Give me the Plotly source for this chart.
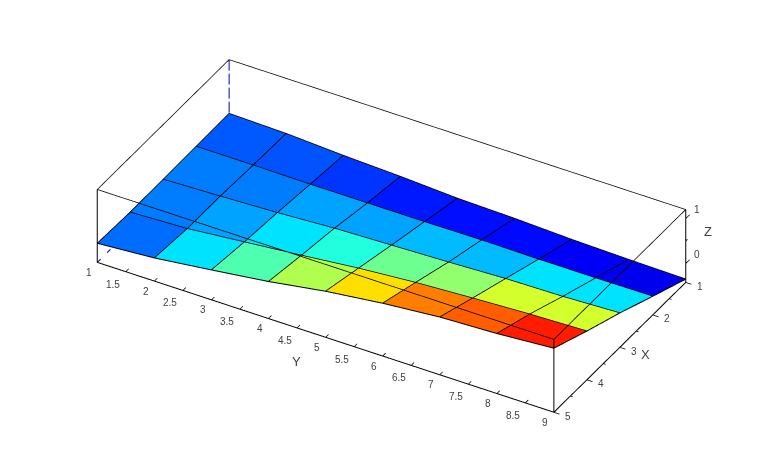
#!/usr/bin/env python
# coding: utf-8

import numpy as np
import plotly.graph_objects as go

x_vals = [1, 2, 3, 4, 5]
y_vals = [1, 2, 3, 4, 5, 6, 7, 8, 9]

# surface heights, one row per X, one column per Y
z_x1 = [0.00, -0.03, -0.10, -0.15, -0.22, -0.25, -0.30, -0.33, -0.35]
z_x2 = [-0.01, -0.01, -0.02, -0.02, -0.02, -0.01, -0.02, -0.02, -0.01]
z_x3 = [-0.02, 0.02, 0.07, 0.14, 0.18, 0.22, 0.27, 0.29, 0.34]
z_x4 = [-0.03, 0.02, 0.14, 0.26, 0.39, 0.49, 0.56, 0.62, 0.66]
z_x5 = [0.00, 0.09, 0.24, 0.40, 0.60, 0.75, 0.86, 0.91, 1.00]

# flat colour value of each cell on the jet scale, one row per X strip
c_x1 = [0.213, 0.208, 0.179, 0.150, 0.140, 0.135, 0.120, 0.105]
c_x2 = [0.248, 0.248, 0.287, 0.287, 0.311, 0.311, 0.350, 0.350]
c_x3 = [0.248, 0.287, 0.350, 0.409, 0.483, 0.517, 0.581, 0.581]
c_x4 = [0.233, 0.350, 0.453, 0.547, 0.654, 0.750, 0.782, 0.846]

x_ticks = [1, 1.5, 2, 2.5, 3, 3.5, 4, 4.5, 5]
x_tick_labels = ["1", "", "2", "", "3", "", "4", "", "5"]
y_ticks = [1, 1.5, 2, 2.5, 3, 3.5, 4, 4.5, 5, 5.5, 6, 6.5, 7, 7.5, 8, 8.5, 9]
y_tick_labels = ["1", "1.5", "2", "2.5", "3", "3.5", "4", "4.5", "5", "5.5", "6", "6.5", "7", "7.5", "8", "8.5", "9"]
z_ticks = [0, 0.5, 1]
z_tick_labels = ["0", "", "1"]

x_lim = [1, 5]
y_lim = [1, 9]
z_lim = [-0.42, 1.2]

jet = [[0, 'rgb(0,0,143)'], [0.125, 'rgb(0,0,255)'], [0.375, 'rgb(0,255,255)'],
       [0.625, 'rgb(255,255,0)'], [0.875, 'rgb(255,0,0)'], [1, 'rgb(128,0,0)']]

z_grid = np.array([z_x1, z_x2, z_x3, z_x4, z_x5])
c_grid = np.array([c_x1, c_x2, c_x3, c_x4])
nx, ny = z_grid.shape
X, Y = np.meshgrid(x_vals, y_vals, indexing='ij')

# two triangles per cell
i, j, k = [], [], []
for a in range(nx - 1):
    for b in range(ny - 1):
        p = a * ny + b
        i += [p, p]
        j += [p + 1, p + ny + 1]
        k += [p + ny + 1, p + ny]

surface = go.Mesh3d(
    x=X.ravel(), y=Y.ravel(), z=z_grid.ravel(),
    i=i, j=j, k=k,
    intensity=np.repeat(c_grid.ravel(), 2),
    intensitymode='cell',
    colorscale=jet, cmin=0, cmax=1,
    showscale=False,
    flatshading=True,
    lighting=dict(ambient=1, diffuse=0, specular=0, roughness=1, fresnel=0),
    hoverinfo='skip'
)

def segments(points):
    xs, ys, zs = [], [], []
    for line in points:
        for p in line:
            xs.append(p[0])
            ys.append(p[1])
            zs.append(p[2])
        xs.append(None)
        ys.append(None)
        zs.append(None)
    return xs, ys, zs

def line_trace(points, color='black', width=1.5):
    xs, ys, zs = segments(points)
    return go.Scatter3d(x=xs, y=ys, z=zs, mode='lines',
                        line=dict(color=color, width=width),
                        hoverinfo='skip', showlegend=False)

lift = 0.004
edges = []
for a in range(nx):
    edges.append([(x_vals[a], y_vals[b], z_grid[a, b] + lift) for b in range(ny)])
for b in range(ny):
    edges.append([(x_vals[a], y_vals[b], z_grid[a, b] + lift) for a in range(nx)])

x0, x1 = x_lim
y0, y1 = y_lim
zb, zt = z_lim
box_top = [
    [(x0, y0, zt), (x0, y1, zt), (x1, y1, zt), (x1, y0, zt), (x0, y0, zt)],
]
box_front = [
    [(x1, y0, zb), (x1, y1, zb), (x0, y1, zb)],
    [(x1, y0, zb), (x1, y0, zt)],
    [(x1, y1, zb), (x1, y1, zt)],
    [(x0, y1, zb), (x0, y1, zt)],
]

# the two box edges behind the surface are drawn dashed
hidden = []
for s in np.arange(zt, zb, -0.311):
    hidden.append([(x0, y0, s), (x0, y0, max(s - 0.244, zb))])
for s in np.arange(x1, x0, -0.3):
    hidden.append([(s, y0, zb), (s - 0.1, y0, zb)])

ticks = []
for t in y_ticks:
    ticks.append([(x1, t, zb), (x1 - 0.09, t, zb)])
for t, lab in zip(x_ticks, x_tick_labels):
    ticks.append([(t, y1, zb), (t, y1 + (0.1 if lab else 0.04), zb)])
for t, lab in zip(z_ticks, z_tick_labels):
    ticks.append([(x0, y1, t), (x0 - (0.12 if lab else 0.05), y1, t)])

tick_font = dict(family='Liberation Sans', size=10, color='#404040')
title_font = dict(family='Liberation Sans', size=13, color='#404040')
notes = []
for t, lab in zip(y_ticks, y_tick_labels):
    notes.append(dict(x=x1, y=t, z=zb, text=lab, showarrow=False, font=tick_font,
                      xanchor='right', yanchor='middle', xshift=-3.5,
                      yshift=-12.5 if '.' in lab else -10))
for t, lab in zip(x_ticks, x_tick_labels):
    if lab:
        notes.append(dict(x=t, y=y1, z=zb, text=lab, showarrow=False, font=tick_font,
                          xanchor='left', yanchor='middle', xshift=9.5, yshift=-4))
for t, lab in zip(z_ticks, z_tick_labels):
    if lab:
        notes.append(dict(x=x0, y=y1, z=t, text=lab, showarrow=False, font=tick_font,
                          xanchor='left', yanchor='middle', xshift=6, yshift=9.5))
notes.append(dict(x=3, y=y1, z=zb, text='X', showarrow=False, font=title_font, xshift=26, yshift=-7))
notes.append(dict(x=x1, y=5, z=zb, text='Y', showarrow=False, font=title_font, xshift=-29, yshift=-24))
notes.append(dict(x=x0, y=y1, z=0.39, text='Z', showarrow=False, font=title_font, xshift=22, yshift=14.5))

# view
azim = np.radians(30)
elev = np.radians(34.66)
dist = 1.79
zoom = 1.117
px_unit = 264.0
right = np.array([-np.sin(azim), np.cos(azim), 0])
up = np.array([-np.cos(azim) * np.sin(elev), -np.sin(azim) * np.sin(elev), np.cos(elev)])
center = right * 9.5 / px_unit - up * 9 / px_unit
view = np.array([np.cos(elev) * np.cos(azim), np.cos(elev) * np.sin(azim), np.sin(elev)])
eye = center + dist * view

pad_x, pad_y, pad_z = 0.4, 0.4, 0.02
hidden_axis = dict(visible=False, showspikes=False)

fig = go.Figure(data=[surface, line_trace(edges, width=2), line_trace(box_top),
                      line_trace(box_front, width=2), line_trace(ticks),
                      line_trace(hidden, color='#0000c0', width=2)])
fig.update_layout(
    width=784, height=472,
    margin=dict(l=0, r=0, t=0, b=0),
    paper_bgcolor='white',
    showlegend=False,
    scene=dict(
        domain=dict(x=[0, 1], y=[0, 1]),
        xaxis=dict(range=[x0 - pad_x, x1 + pad_x], **hidden_axis),
        yaxis=dict(range=[y0 - pad_y, y1 + pad_y], **hidden_axis),
        zaxis=dict(range=[zb - pad_z, zt + pad_z], **hidden_axis),
        aspectmode='manual',
        aspectratio=dict(x=zoom * (x1 - x0 + 2 * pad_x) / 4, y=zoom * 2 * (y1 - y0 + 2 * pad_y) / 8,
                         z=zoom * 0.336 * (zt - zb + 2 * pad_z) / (zt - zb)),
        camera=dict(eye=dict(x=eye[0], y=eye[1], z=eye[2]),
                    center=dict(x=center[0], y=center[1], z=center[2]),
                    up=dict(x=0, y=0, z=1),
                    projection=dict(type='orthographic')),
        annotations=notes,
    ),
)
fig.write_html("out.html", config=dict(displayModeBar=False))
